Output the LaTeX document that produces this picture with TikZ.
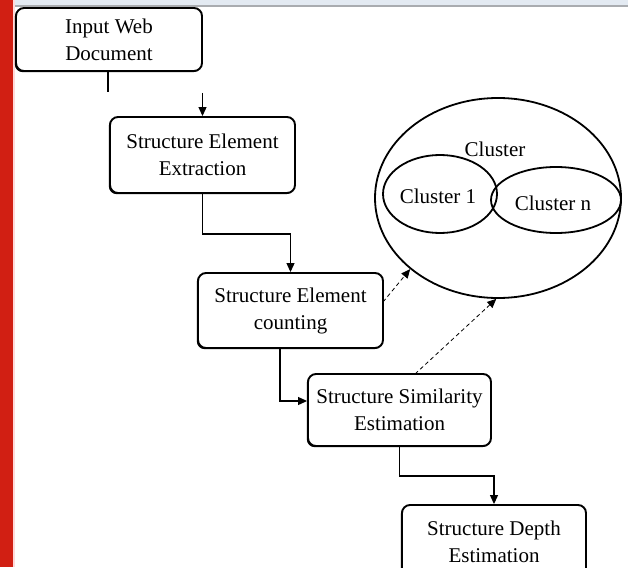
\documentclass[tikz,border=0pt]{standalone}
\usepackage{fontspec}
\setmainfont{Liberation Serif}
\usetikzlibrary{arrows.meta,shapes.geometric,shadows}
\definecolor{sidebar}{HTML}{D11F13}
\definecolor{topband}{HTML}{E3EAF2}
\definecolor{topline}{HTML}{A9ACB0}
\begin{document}
\begin{tikzpicture}[x=1pt,y=-1pt,
  font=\fontsize{21}{27}\selectfont,
  procbox/.style={draw=black,line width=1.9pt,rounded corners=8pt,fill=white,
    align=center,inner sep=0pt,
    drop shadow={shadow xshift=-1.2pt,shadow yshift=-1.2pt,fill=black,opacity=1}},
  flow/.style={line width=1.1pt,-{Triangle[length=9pt,width=8pt]}},
  plain/.style={line width=1.1pt},
  assoc/.style={line width=0.8pt,dash pattern=on 4pt off 3pt,
    -{Triangle[length=9pt,width=8pt]}},
  blob/.style={draw=black,line width=1.8pt,ellipse,inner sep=0pt}]
  \useasboundingbox (0,0) rectangle (628,567);
  \fill[white] (0,0) rectangle (628,567);
  % window frame: red side bar and pale top band
  \fill[sidebar] (0,0) rectangle (13,567);
  \fill[red!15] (13,0) rectangle (14.5,567);
  \fill[topband] (14.5,0) rectangle (628,5);
  \fill[topline] (14.5,5) rectangle (628,7);

  % cluster group
  \node[blob,minimum width=246pt,minimum height=200pt] (cl) at (498,198) {};
  \node (cltxt) at (495,149) {Cluster};
  \node[blob,minimum width=114pt,minimum height=78pt] (c1) at (440,194) {};
  \node (c1txt) at (438,196) {Cluster 1};
  \node[blob,minimum width=130pt,minimum height=66pt] (cn) at (556,200) {};
  \node (cntxt) at (553,203) {Cluster n};

  % process steps
  \node[procbox,minimum width=186pt,minimum height=63pt] (b1) at (109,39.5)
    {Input Web\\Document};
  \node[procbox,minimum width=185pt,minimum height=76pt] (b2) at (202.5,155)
    {Structure Element\\Extraction};
  \node[procbox,minimum width=185pt,minimum height=75pt] (b3) at (290.5,310.5)
    {Structure Element\\counting};
  \node[procbox,minimum width=183pt,minimum height=72pt] (b4) at (399.5,410)
    {Structure Similarity\\Estimation};
  \node[procbox,minimum width=184pt,minimum height=74pt] (b5) at (494,542)
    {Structure Depth\\Estimation};

  % flow connectors
  \coordinate (b1tail) at (108,92);
  \coordinate (b2lead) at (202.5,93);
  \draw[plain] (b1.south -| b1tail) -- (b1tail);
  \draw[flow] (b2lead) -- (b2.north);
  \draw[flow] (b2.south) -- ++(0,40) -| (b3.north);
  \coordinate (b3out) at (280,348);
  \draw[flow] (b3.south -| b3out) |- ([yshift=9pt]b4.west);
  \draw[flow] (b4.south) -- ++(0,29) -| (b5.north);

  % links to the cluster
  \coordinate (b3side) at (383,302);
  \coordinate (b4top) at (415,374);
  \draw[assoc] (b3side) -- (cl.219);
  \draw[assoc] (b4top) -- (cl.269);
\end{tikzpicture}
\end{document}
